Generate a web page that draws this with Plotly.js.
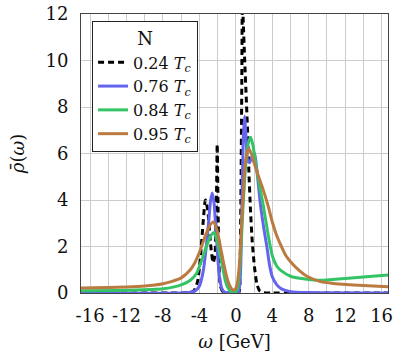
<!DOCTYPE html>
<html>
<head>
<meta charset="utf-8">
<script src="https://cdn.plot.ly/plotly-3.0.1.min.js"></script>
<style>html,body{margin:0;padding:0;background:#fff;}#chart{width:398px;height:359px;}</style>
</head>
<body>
<div id="chart"></div>
<script>
// ---- data ----
const seriesNames = ["0.24 <i>T<sub>c</sub></i>", "0.76 <i>T<sub>c</sub></i>", "0.84 <i>T<sub>c</sub></i>", "0.95 <i>T<sub>c</sub></i>"];

const x024 = [-17, -6, -5, -4.6, -4.2, -3.9, -3.6, -3.35, -3.1, -2.8, -2.5, -2.3, -2.15, -2.05, -1.95, -1.85, -1.7, -1.4, -1, 0.3, 0.45, 0.55, 0.65, 0.72, 0.8, 0.97, 1.15, 1.3, 1.45, 1.6, 1.8, 2.05, 2.3, 2.6, 3, 4, 17];
const y024 = [0, 0, 0.02, 0.1, 0.5, 1.5, 3.0, 4.0, 3.6, 2.2, 1.3, 1.6, 3.5, 6.4, 3.5, 1.2, 0.3, 0.05, 0, 0, 1.0, 4.0, 9.0, 13.0, 11.8, 10.0, 8.3, 6.8, 5.0, 3.6, 2.2, 1.1, 0.4, 0.1, 0.02, 0, 0];

const x076 = [-17, -6, -5, -4.5, -4.0, -3.6, -3.3, -3.0, -2.8, -2.6, -2.4, -2.2, -2.0, -1.8, -1.55, -1.2, 0, 0.3, 0.5, 0.65, 0.8, 0.95, 1.1, 1.3, 1.5, 1.8, 2.05, 2.3, 2.7, 3.1, 3.4, 3.7, 4.0, 4.5, 5, 6, 8, 17];
const y076 = [0, 0, 0.03, 0.08, 0.3, 0.9, 1.8, 3.0, 3.9, 4.3, 3.9, 2.8, 1.6, 0.7, 0.2, 0.03, 0, 0.05, 0.8, 3.5, 6.5, 7.6, 6.8, 5.7, 5.6, 5.9, 6.0, 5.3, 3.8, 2.7, 2.0, 1.2, 0.7, 0.35, 0.18, 0.06, 0.02, 0];

const x084 = [-17, -12, -8, -6, -5, -4.3, -3.9, -3.5, -3.0, -2.7, -2.4, -2.1, -1.8, -1.5, -1.2, -0.9, -0.5, -0.1, 0.2, 0.5, 0.8, 1.1, 1.4, 1.63, 1.9, 2.2, 2.6, 2.95, 3.5, 4.0, 4.5, 5, 6, 7, 8, 9, 10, 12, 14, 16.7];
const y084 = [0.1, 0.12, 0.18, 0.35, 0.55, 0.85, 1.25, 1.7, 2.25, 2.5, 2.6, 2.3, 1.75, 1.2, 0.6, 0.25, 0.05, 0.02, 0.2, 1.5, 3.8, 5.6, 6.5, 6.7, 6.3, 5.5, 4.6, 3.9, 2.6, 1.6, 1.15, 0.95, 0.72, 0.63, 0.58, 0.55, 0.56, 0.62, 0.69, 0.78];

const x095 = [-17, -14, -12, -10, -8, -7, -6, -5, -4.5, -4, -3.5, -3, -2.5, -2.1, -1.7, -1.3, -0.9, -0.5, -0.2, 0.1, 0.4, 0.7, 1.0, 1.2, 1.41, 1.7, 2.0, 2.5, 2.95, 3.5, 4.04, 4.5, 5, 5.5, 6.1, 7, 7.8, 9.2, 10.5, 11.7, 14, 16.7];
const y095 = [0.22, 0.24, 0.26, 0.3, 0.4, 0.5, 0.65, 1.0, 1.3, 1.75, 2.3, 2.8, 3.05, 2.75, 2.0, 1.2, 0.55, 0.2, 0.12, 0.3, 1.3, 3.5, 5.4, 6.0, 6.2, 6.0, 5.6, 5.0, 4.5, 3.8, 3.0, 2.45, 2.0, 1.6, 1.3, 0.95, 0.72, 0.5, 0.42, 0.38, 0.32, 0.27];

const xTickVals = [-16, -12, -8, -4, 0, 4, 8, 12, 16];
const xTickText = ["-16", "-12", "-8", "-4", "0", "4", "8", "12", "16"];
const yTickVals = [0, 2, 4, 6, 8, 10, 12];
const yTickText = ["0", "2", "4", "6", "8", "10", "12"];

// ---- drawing ----
const colors = ["#000000", "#6464ee", "#33c466", "#bb7a40"];
const xs = [x024, x076, x084, x095];
const ys = [y024, y076, y084, y095];
const traces = xs.map((xv, i) => ({
  x: xv, y: ys[i], type: "scatter", mode: "lines", name: seriesNames[i],
  line: {color: colors[i], width: 3, dash: i === 0 ? "6px,4px" : "solid", shape: "spline", smoothing: 0.6}
}));

const serif = "DejaVu Serif";
const layout = {
  width: 398, height: 359,
  margin: {l: 81, r: 10, t: 14, b: 66},
  paper_bgcolor: "#fff", plot_bgcolor: "#fff",
  font: {family: serif, size: 18, color: "#111"},
  showlegend: true,
  legend: {
    x: 0.036, y: 0.975, xanchor: "left", yanchor: "top",
    bgcolor: "#fff", bordercolor: "#222", borderwidth: 1,
    font: {family: serif, size: 16, color: "#111"},
    title: {text: "N", side: "top center", font: {family: serif, size: 18}},
    tracegroupgap: 0
  },
  xaxis: {
    range: [-17, 16.7], tickvals: xTickVals, ticktext: xTickText,
    showgrid: true, gridcolor: "#cccccc", gridwidth: 1,
    minor: {dtick: 2, tick0: 0, showgrid: true, gridcolor: "#cccccc", gridwidth: 1},
    showline: true, linecolor: "#444", linewidth: 1, mirror: true,
    zeroline: false, ticks: "", ticklabelstandoff: 6,
    tickfont: {family: serif, size: 18},
    title: {text: "<i>ω</i> [GeV]", font: {family: serif, size: 18}, standoff: 10}
  },
  yaxis: {
    range: [0, 12], tickvals: yTickVals, ticktext: yTickText,
    showgrid: true, gridcolor: "#cccccc", gridwidth: 1,
    showline: true, linecolor: "#444", linewidth: 1, mirror: true,
    zeroline: false, ticks: "", ticklabelstandoff: 8,
    tickfont: {family: serif, size: 18},
    title: {text: "<i>ρ̄</i>(<i>ω</i>)", font: {family: serif, size: 18}, standoff: 16}
  }
};
Plotly.newPlot("chart", traces, layout, {displayModeBar: false, staticPlot: true});
</script>
</body>
</html>
